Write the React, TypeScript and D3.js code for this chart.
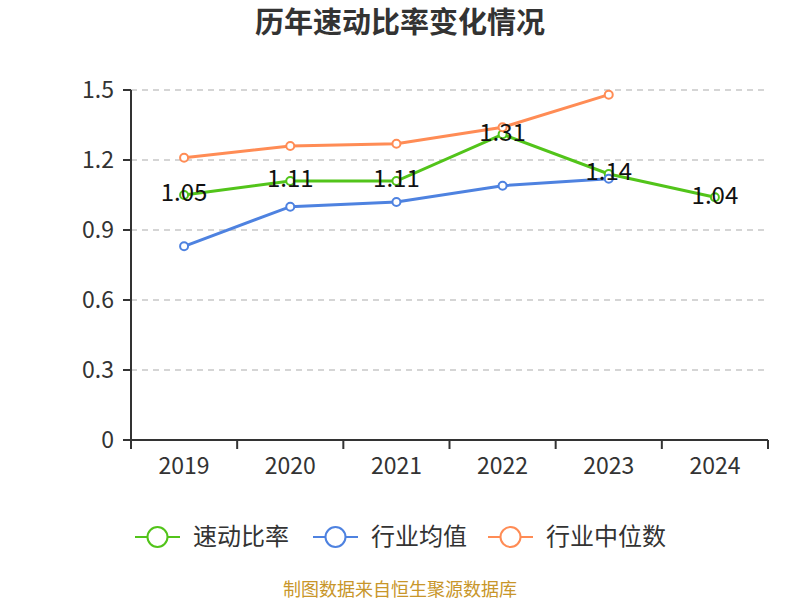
import React from 'react';
import * as d3 from 'd3';

const years = ['2019', '2020', '2021', '2022', '2023', '2024'];
const quickRatio = [1.05, 1.11, 1.11, 1.31, 1.14, 1.04];
const industryMean = [0.83, 1.0, 1.02, 1.09, 1.12];
const industryMedian = [1.21, 1.26, 1.27, 1.34, 1.48];
const yTicks = [0, 0.3, 0.6, 0.9, 1.2, 1.5];

const seriesNames = ['速动比率', '行业均值', '行业中位数'];
const seriesColors = ['#52c41a', '#4e82e0', '#ff8c55'];

const W = 800;
const H = 600;
const font = '"Noto Sans CJK SC", "Noto Sans", sans-serif';

const App: React.FC = () => {
  const x = d3.scaleBand<string>().domain(years).range([131, 768]);
  const y = d3.scaleLinear().domain([0, 1.5]).range([440, 90]);
  const cx = (i: number) => (x(years[i]) as number) + x.bandwidth() / 2;

  const line = d3
    .line<number>()
    .x((_, i) => cx(i))
    .y((d) => y(d));

  const series = [quickRatio, industryMean, industryMedian];
  const legendX = [135, 313, 488];
  const bounds = years.map((yr) => x(yr) as number).concat([768]);

  return (
    <svg width={W} height={H} style={{ position: 'absolute', left: 0, top: 0 }} fontFamily={font}>
      <rect width={W} height={H} fill="#fff" />
      <text x={400} y={33} textAnchor="middle" fontSize={29} fontWeight="bold" fill="#333">
        历年速动比率变化情况
      </text>

      {yTicks.map((t) => (
        <g key={t}>
          {t > 0 && (
            <line x1={131} x2={768} y1={y(t)} y2={y(t)} stroke="#c8c8c8" strokeWidth={1.5} strokeDasharray="6,5" />
          )}
          <line x1={123} x2={131} y1={y(t)} y2={y(t)} stroke="#333" strokeWidth={2} />
          <text x={114} y={y(t)} dy="0.35em" textAnchor="end" fontSize={23} fill="#333">
            {t === 0 ? '0' : t.toFixed(1)}
          </text>
        </g>
      ))}

      <line x1={131} x2={131} y1={90} y2={449} stroke="#333" strokeWidth={2} />
      <line x1={131} x2={768} y1={440} y2={440} stroke="#333" strokeWidth={2} />
      {bounds.map((b, i) => (
        <line key={i} x1={b} x2={b} y1={440} y2={449} stroke="#333" strokeWidth={2} />
      ))}
      {years.map((yr, i) => (
        <text key={yr} x={cx(i)} y={466} dy="0.35em" textAnchor="middle" fontSize={23} fill="#333">
          {yr}
        </text>
      ))}

      {series.map((s, k) => (
        <g key={k}>
          <path d={line(s) as string} fill="none" stroke={seriesColors[k]} strokeWidth={3} />
          {s.map((v, i) => (
            <circle key={i} cx={cx(i)} cy={y(v)} r={4} fill="#fff" stroke={seriesColors[k]} strokeWidth={2} />
          ))}
        </g>
      ))}

      {quickRatio.map((v, i) => (
        <text key={i} x={cx(i)} y={y(v) - 2} dy="0.35em" textAnchor="middle" fontSize={24} fill="#111">
          {v.toFixed(2)}
        </text>
      ))}

      {seriesNames.map((n, k) => (
        <g key={n}>
          <line x1={legendX[k]} x2={legendX[k] + 45} y1={537} y2={537} stroke={seriesColors[k]} strokeWidth={2} />
          <circle cx={legendX[k] + 22.5} cy={537} r={10} fill="#fff" stroke={seriesColors[k]} strokeWidth={2} />
          <text x={legendX[k] + 58} y={537} dy="0.35em" fontSize={24} fill="#333">
            {n}
          </text>
        </g>
      ))}

      <text x={400} y={596} textAnchor="middle" fontSize={18} fill="#c8962a">
        制图数据来自恒生聚源数据库
      </text>
    </svg>
  );
};

export default App;
